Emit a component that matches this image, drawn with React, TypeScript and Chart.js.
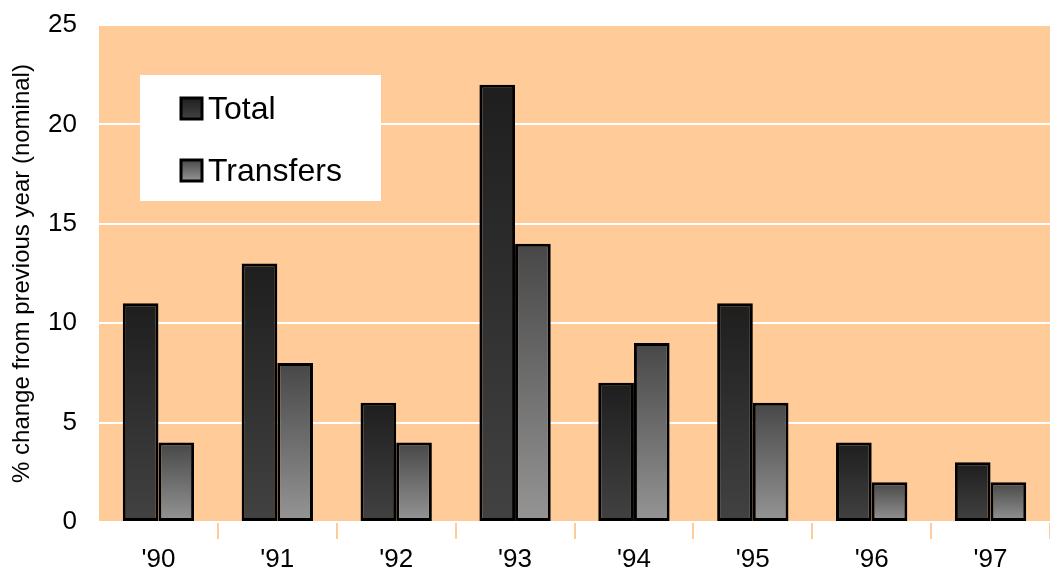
import React, { useEffect, useRef } from "react";
import { Chart, registerables } from "chart.js";

Chart.register(...registerables);

const categories = ["'90", "'91", "'92", "'93", "'94", "'95", "'96", "'97"];
const totalValues = [11, 13, 6, 22, 7, 11, 4, 3];
const transferValues = [4, 8, 4, 14, 9, 6, 2, 2];
const yTicks = [0, 5, 10, 15, 20, 25];
const seriesNames = ["Total", "Transfers"];
const yTitle = "% change from previous year (nominal)";

const FONT = "'Liberation Sans', Arial, sans-serif";
const PEACH = "#FFCC99";
const gradStops: [string, string][] = [
  ["#1e1e1e", "#424242"],
  ["#474747", "#959595"],
];

const bgPlugin = {
  id: "peachBg",
  beforeDraw(chart: any) {
    const { ctx, chartArea } = chart;
    if (!chartArea) return;
    ctx.save();
    ctx.fillStyle = PEACH;
    ctx.fillRect(chartArea.left, chartArea.top, chartArea.right - chartArea.left, chartArea.bottom - chartArea.top);
    ctx.restore();
  },
};

const legendPlugin = {
  id: "boxLegend",
  afterDatasetsDraw(chart: any) {
    const { ctx } = chart;
    ctx.save();
    ctx.fillStyle = "#ffffff";
    ctx.fillRect(140, 75, 241, 126);
    const rows = [
      { y: 97, name: seriesNames[0], stops: gradStops[0] },
      { y: 159, name: seriesNames[1], stops: gradStops[1] },
    ];
    rows.forEach((r) => {
      const g = ctx.createLinearGradient(0, r.y, 0, r.y + 22);
      g.addColorStop(0, r.stops[0]);
      g.addColorStop(1, r.stops[1]);
      ctx.fillStyle = g;
      ctx.fillRect(181, r.y + 1, 21, 21);
      ctx.strokeStyle = "#000";
      ctx.lineWidth = 3;
      ctx.strokeRect(181, r.y + 1, 21, 21);
      ctx.fillStyle = "#000";
      ctx.font = `32px ${FONT}`;
      ctx.textBaseline = "alphabetic";
      ctx.textAlign = "left";
      ctx.fillText(r.name, 208, r.y + 22);
    });
    ctx.restore();
  },
};

function barGradient(ctx: any, idx: number) {
  const chart = ctx.chart;
  const stops = gradStops[idx];
  if (ctx.type !== "data" || !chart.chartArea || !chart.scales.y) return stops[0];
  const ys = chart.scales.y;
  const y1 = ys.getPixelForValue(ctx.raw as number);
  const y0 = ys.getPixelForValue(0);
  if (!isFinite(y1) || !isFinite(y0) || y1 === y0) return stops[0];
  const g = chart.ctx.createLinearGradient(0, y1, 0, y0);
  g.addColorStop(0, stops[0]);
  g.addColorStop(1, stops[1]);
  return g;
}

export default function App() {
  const ref = useRef<HTMLCanvasElement | null>(null);
  useEffect(() => {
    document.body.style.margin = "0";
    if (!ref.current) return;
    const chart = new Chart(ref.current, {
      type: "bar",
      data: {
        labels: categories,
        datasets: [
          {
            label: seriesNames[0],
            data: totalValues,
            backgroundColor: (c: any) => barGradient(c, 0),
            borderColor: "#000",
            borderWidth: 3,
            borderSkipped: false,
          },
          {
            label: seriesNames[1],
            data: transferValues,
            backgroundColor: (c: any) => barGradient(c, 1),
            borderColor: "#000",
            borderWidth: 3,
            borderSkipped: false,
          },
        ],
      },
      options: {
        responsive: false,
        animation: false,
        events: [],
        layout: { padding: { top: 25, right: 0, left: 0, bottom: 0 } },
        datasets: { bar: { categoryPercentage: 0.6, barPercentage: 1.0 } },
        plugins: { legend: { display: false }, tooltip: { enabled: false } },
        scales: {
          x: {
            grid: {
              offset: true,
              drawOnChartArea: false,
              drawTicks: true,
              tickLength: 17,
              color: (c: any) => (c.index === 0 || c.index === categories.length ? "rgba(0,0,0,0)" : PEACH),
              lineWidth: 2,
            },
            border: { display: false },
            ticks: { color: "#000", font: { family: FONT, size: 26 }, padding: 5 },
            afterFit: (s: any) => {
              s.height = 53;
              s.paddingLeft = 0;
              s.paddingRight = 0;
            },
          },
          y: {
            min: 0,
            max: 25,
            afterBuildTicks: (s: any) => {
              s.ticks = yTicks.map((v) => ({ value: v }));
            },
            grid: { color: "#ffffff", lineWidth: 2, drawTicks: false },
            border: { display: false },
            ticks: { color: "#000", font: { family: FONT, size: 26 }, padding: 22 },
            title: {
              display: true,
              text: yTitle,
              color: "#000",
              font: { family: FONT, size: 24 },
              padding: { top: 8, bottom: 0 },
            },
            afterFit: (s: any) => {
              s.width = 99;
              s.paddingTop = 0;
              s.paddingBottom = 0;
            },
          },
        },
      },
      plugins: [bgPlugin, legendPlugin],
    });
    return () => chart.destroy();
  }, []);
  return <canvas ref={ref} width={1050} height={575} style={{ display: "block" }} />;
}
